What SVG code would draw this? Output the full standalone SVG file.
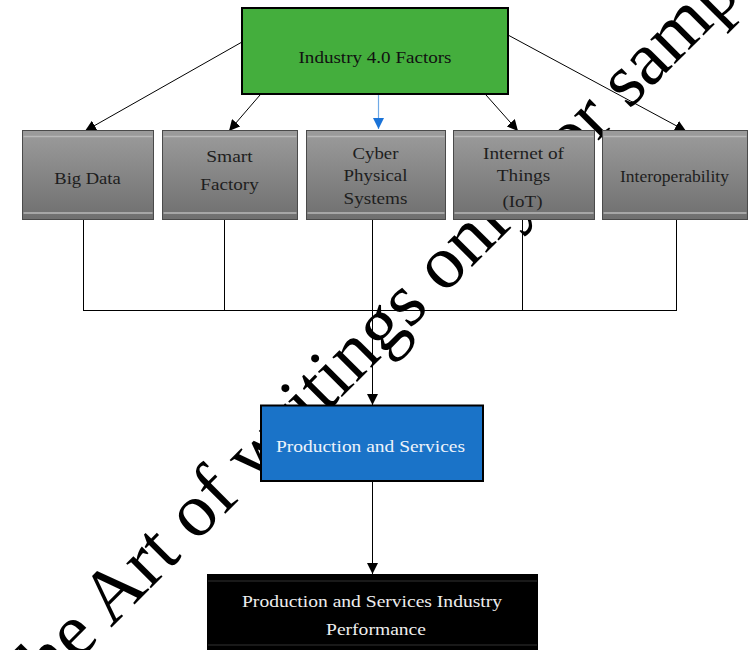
<svg xmlns="http://www.w3.org/2000/svg" width="748" height="650" viewBox="0 0 748 650">
  <defs>
    <linearGradient id="grayFill" x1="0" y1="0" x2="0" y2="1">
      <stop offset="0" stop-color="#9c9c9c"/>
      <stop offset="1" stop-color="#6f6f6f"/>
    </linearGradient>
    <marker id="arrow" viewBox="0 0 10 10" refX="10" refY="5" markerWidth="11" markerHeight="11" markerUnits="userSpaceOnUse" orient="auto">
      <path d="M0,0 L10,5 L0,10 z" fill="#000"/>
    </marker>
    <marker id="arrowBlue" viewBox="0 0 10 10" refX="10" refY="5" markerWidth="11" markerHeight="11" markerUnits="userSpaceOnUse" orient="auto">
      <path d="M0,0 L10,5 L0,10 z" fill="#1a73d8"/>
    </marker>
    <style>
      text { font-family: "Liberation Serif", "Times New Roman", serif; font-size: 17.5px; text-anchor: middle; }
      .factor rect.body { fill: url(#grayFill); stroke: #4a4a4a; stroke-width: 1; }
      .factor line { stroke: #b9b9b9; stroke-width: 1.5; }
      .factor text { fill: #1e1e1e; }
      .conn { stroke: #000; stroke-width: 1; fill: none; }
      .mark { fill: #000; font-size: 76px; text-anchor: start; }
    </style>
  </defs>

  <rect width="748" height="650" fill="#fff"/>

  <!-- diagonal background text, drawn beneath the chart -->
  <g id="overlay" transform="translate(17,722) rotate(-45)">
    <text class="mark" x="0" y="0">The Art of writings only for sample</text>
  </g>

  <!-- connectors -->
  <g id="connectors">
    <line class="conn" x1="242" y1="42" x2="85" y2="131" marker-end="url(#arrow)"/>
    <line class="conn" x1="260" y1="95" x2="229" y2="131" marker-end="url(#arrow)"/>
    <line x1="378.5" y1="95" x2="378.5" y2="129" stroke="#6fa9e6" stroke-width="1.2" marker-end="url(#arrowBlue)"/>
    <line class="conn" x1="486" y1="95" x2="518" y2="131" marker-end="url(#arrow)"/>
    <line class="conn" x1="508" y1="35" x2="686" y2="131" marker-end="url(#arrow)"/>
    <!-- collector bus below the factors -->
    <line class="conn" x1="83.5" y1="219" x2="83.5" y2="310.5"/>
    <line class="conn" x1="224.5" y1="219" x2="224.5" y2="310.5"/>
    <line class="conn" x1="522.5" y1="219" x2="522.5" y2="310.5"/>
    <line class="conn" x1="676.5" y1="219" x2="676.5" y2="310.5"/>
    <line class="conn" x1="83" y1="310.5" x2="677" y2="310.5" stroke-width="1.3"/>
    <line class="conn" x1="372.5" y1="219" x2="372.5" y2="405" marker-end="url(#arrow)"/>
    <line class="conn" x1="372.5" y1="481" x2="372.5" y2="574" marker-end="url(#arrow)"/>
  </g>

  <!-- top node -->
  <g id="industry40">
    <rect x="242" y="8" width="266" height="86" fill="#44ae3d" stroke="#000" stroke-width="2"/>
    <text x="375" y="63" fill="#111" textLength="153" lengthAdjust="spacingAndGlyphs">Industry 4.0 Factors</text>
  </g>

  <!-- factor nodes -->
  <g id="bigData" class="factor">
    <rect class="body" x="22.5" y="130.5" width="131" height="89"/>
    <line x1="23.5" y1="136.5" x2="152.5" y2="136.5"/>
    <line x1="23.5" y1="213" x2="152.5" y2="213"/>
    <text x="87.5" y="183.5" textLength="66.5" lengthAdjust="spacingAndGlyphs">Big Data</text>
  </g>
  <g id="smartFactory" class="factor">
    <rect class="body" x="162.5" y="130.5" width="135" height="89"/>
    <line x1="163.5" y1="136.5" x2="296.5" y2="136.5"/>
    <line x1="163.5" y1="213" x2="296.5" y2="213"/>
    <text x="229.5" y="161.5" textLength="46.5" lengthAdjust="spacingAndGlyphs">Smart</text>
    <text x="229.5" y="189.5" textLength="58.5" lengthAdjust="spacingAndGlyphs">Factory</text>
  </g>
  <g id="cyberPhysical" class="factor">
    <rect class="body" x="306.5" y="130.5" width="139" height="89"/>
    <line x1="307.5" y1="136.5" x2="444.5" y2="136.5"/>
    <line x1="307.5" y1="213" x2="444.5" y2="213"/>
    <text x="375.5" y="158.5" textLength="46" lengthAdjust="spacingAndGlyphs">Cyber</text>
    <text x="375.5" y="181" textLength="64" lengthAdjust="spacingAndGlyphs">Physical</text>
    <text x="375.5" y="204" textLength="64" lengthAdjust="spacingAndGlyphs">Systems</text>
  </g>
  <g id="iot" class="factor">
    <rect class="body" x="453.5" y="130.5" width="141" height="89"/>
    <line x1="454.5" y1="136.5" x2="593.5" y2="136.5"/>
    <line x1="454.5" y1="213" x2="593.5" y2="213"/>
    <text x="523.5" y="158.5" textLength="81" lengthAdjust="spacingAndGlyphs">Internet of</text>
    <text x="523.5" y="180.5" textLength="53.5" lengthAdjust="spacingAndGlyphs">Things</text>
    <text x="522.5" y="207" textLength="40" lengthAdjust="spacingAndGlyphs">(IoT)</text>
  </g>
  <g id="interoperability" class="factor">
    <rect class="body" x="602.5" y="130.5" width="145" height="89"/>
    <line x1="603.5" y1="136.5" x2="746.5" y2="136.5"/>
    <line x1="603.5" y1="213" x2="746.5" y2="213"/>
    <text x="674.5" y="181.5" textLength="109" lengthAdjust="spacingAndGlyphs">Interoperability</text>
  </g>

  <!-- production node -->
  <g id="production">
    <rect x="261" y="405.5" width="222" height="75.5" fill="#1a73c8" stroke="#000" stroke-width="2"/>
    <text x="370.5" y="451.5" fill="#eef3fb" textLength="189" lengthAdjust="spacingAndGlyphs">Production and Services</text>
  </g>

  <!-- performance node -->
  <g id="performance">
    <rect x="207" y="574" width="331" height="80" fill="#000"/>
    <line x1="208" y1="581" x2="537" y2="581" stroke="#333" stroke-width="1"/>
    <line x1="208" y1="645" x2="537" y2="645" stroke="#333" stroke-width="1"/>
    <text x="372" y="607" fill="#eeeeee" textLength="260" lengthAdjust="spacingAndGlyphs">Production and Services Industry</text>
    <text x="376" y="635" fill="#eeeeee" textLength="100" lengthAdjust="spacingAndGlyphs">Performance</text>
  </g>
</svg>
